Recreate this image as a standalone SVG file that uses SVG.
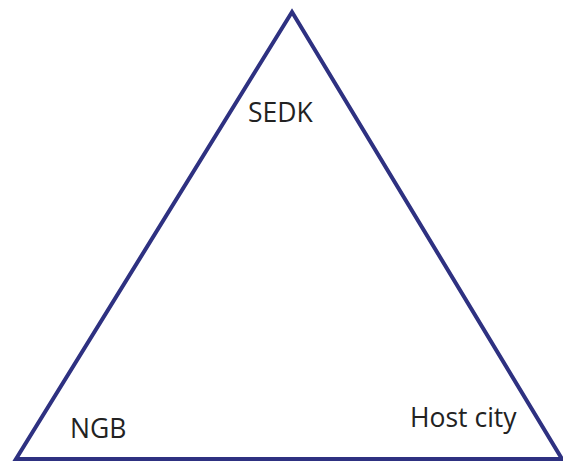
<svg xmlns="http://www.w3.org/2000/svg" width="563" height="461" viewBox="0 0 563 461">
<style>
.edge{fill:none;stroke:#2e3181;stroke-width:4;stroke-linejoin:miter}
.lbl{font-family:"Open Sans","Liberation Sans",sans-serif;font-size:26.5px;fill:#222}
</style>
<rect width="563" height="461" fill="#fff"/>
<g id="connectors">
<polygon class="edge" points="292,12 562,459 16,459"/>
</g>
<g id="sedk"><text class="lbl" x="248" y="122">SEDK</text></g>
<g id="ngb"><text class="lbl" x="70" y="438">NGB</text></g>
<g id="hostcity"><text class="lbl" x="410" y="427">Host city</text></g>
</svg>
